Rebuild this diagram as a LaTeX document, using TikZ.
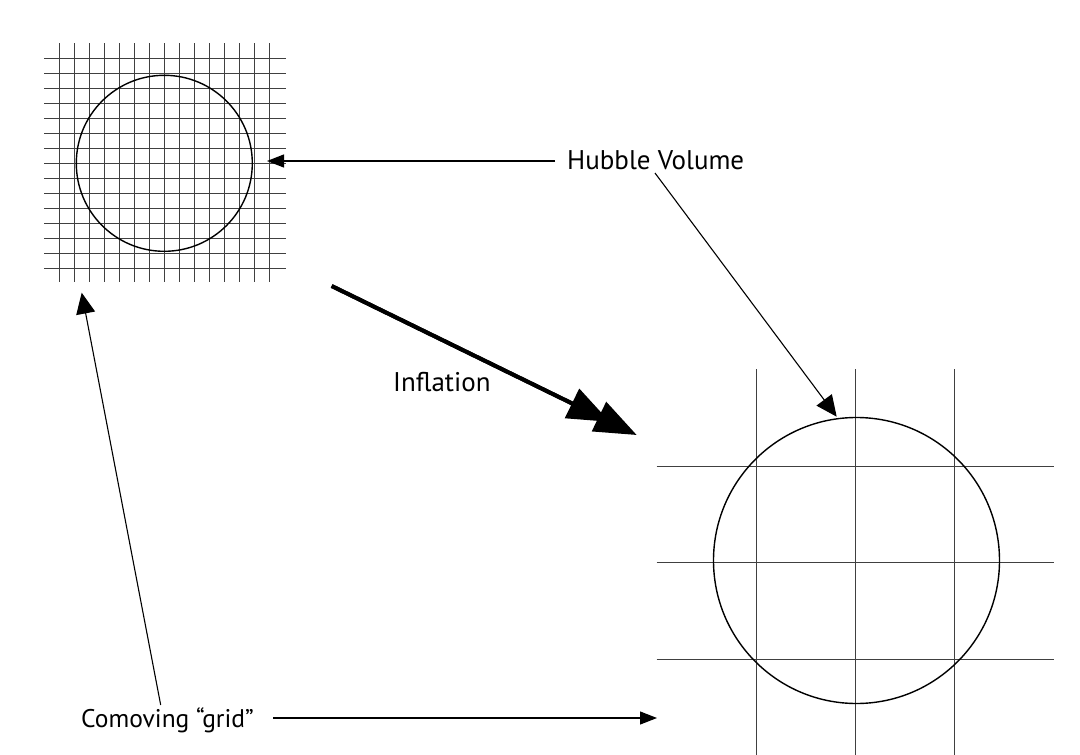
\documentclass[tikz,border=0pt]{standalone}
\usepackage{fontspec}
\setmainfont{PT Sans}
\usetikzlibrary{arrows.meta}
\begin{document}
\begin{tikzpicture}[x=1pt,y=-1pt,
  gridline/.style={draw=black!75, line width=0.9pt},
  hubcircle/.style={draw=black, line width=1.4pt},
  thinarrow/.style={draw=black, line width=1.1pt, -{Triangle[length=17pt,width=13pt]}},
  slantarrow/.style={draw=black, line width=1.1pt, -{Triangle[length=21pt,width=19pt]}},
  bigarrow/.style={draw=black, line width=4pt, -{Triangle[length=42pt,width=32pt]}},
  label/.style={font=\fontsize{27}{32}\selectfont, inner sep=0pt, anchor=base west},
  smalllabel/.style={label, font=\fontsize{25.5}{30}\selectfont}]
\useasboundingbox[fill=white] (0,0) rectangle (1080,755);
% small comoving grid
\foreach \k in {0,...,14}{
  \draw[gridline] ({59.3+15*\k},43) -- ({59.3+15*\k},282);
  \draw[gridline] (44,{58.3+15*\k}) -- (286,{58.3+15*\k});
}
\node[hubcircle, circle, minimum size=176pt, inner sep=0pt] (smallc) at (164.3,163.3) {};
% large comoving grid
\foreach \xx in {756,855.3,954.7}{
  \draw[gridline] (\xx,369) -- (\xx,755);
}
\foreach \yy in {466,562.3,659}{
  \draw[gridline] (656.7,\yy) -- (1054,\yy);
}
\node[hubcircle, circle, minimum size=286pt, inner sep=0pt] (bigc) at (856.5,560.5) {};
% labels
\node[label] (hubble) at (567,169) {Hubble Volume};
\node[label] (inflation) at (393,391.7) {Inflation};
\node[smalllabel] (comoving) at (81,727) {Comoving “grid”};
% connector end points
\coordinate (hubL) at (555,161);
\coordinate (hubS) at (267,161);
\coordinate (hubD) at (655,173);
\coordinate (hubB) at (836.7,416.7);
\coordinate (infA) at (331.7,286);
\coordinate (infB) at (636.7,435);
\coordinate (comR) at (273,718);
\coordinate (comE) at (657,718);
\coordinate (comU) at (160.7,705);
\coordinate (comG) at (81.7,292.7);
% connectors
\draw[thinarrow] (hubL) -- (hubS);
\draw[slantarrow] (hubD) -- (hubB);
\draw[bigarrow, shorten >=30pt] (infA) -- (infB);
\draw[bigarrow] (infA) -- (infB);
\draw[thinarrow] (comR) -- (comE);
\draw[slantarrow] (comU) -- (comG);
\end{tikzpicture}
\end{document}
